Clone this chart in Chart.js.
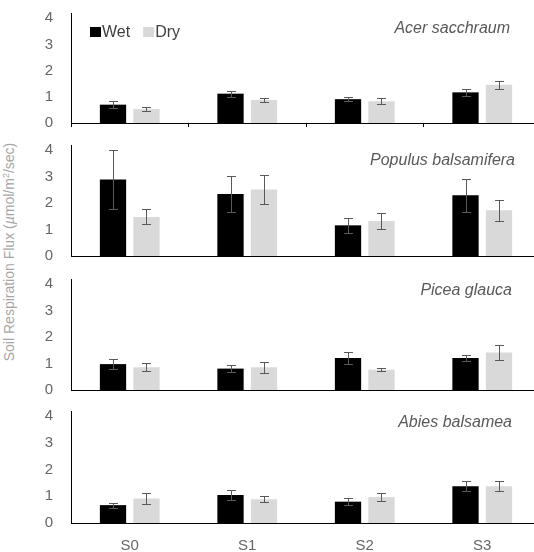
<!DOCTYPE html>
<html>
<head>
<meta charset="utf-8">
<script src="https://cdn.jsdelivr.net/npm/chart.js@4.4.1/dist/chart.umd.min.js"></script>
<style>
  html, body { margin: 0; padding: 0; background: #fff; }
  body { width: 534px; height: 552px; overflow: hidden; position: relative; font-family: "Liberation Sans", Arial, sans-serif; }
  canvas.panel { position: absolute; left: 0; }
  #ytitle {
    position: absolute; left: 9px; top: 252px;
    transform: translate(-50%, -50%) rotate(-90deg);
    white-space: nowrap; font-size: 14px; color: #a6a6a6;
  }
</style>
</head>
<body>
<div id="ytitle">Soil Respiration Flux (<i>µ</i>mol/m<sup style="font-size:9px">2</sup>/sec)</div>
<canvas id="p0" class="panel"></canvas>
<canvas id="p1" class="panel"></canvas>
<canvas id="p2" class="panel"></canvas>
<canvas id="p3" class="panel"></canvas>
<script>
// Sites along the sampling gradient
const categories = ['S0', 'S1', 'S2', 'S3'];
const seriesNames = ['Wet', 'Dry'];
const yTicks = [0, 1, 2, 3, 4];

// Mean soil respiration flux and standard error, per species
const acerWet = [0.70, 1.12, 0.91, 1.17];
const acerWetErr = [0.13, 0.12, 0.08, 0.12];
const acerDry = [0.53, 0.88, 0.83, 1.46];
const acerDryErr = [0.07, 0.06, 0.11, 0.15];

const populusWet = [2.89, 2.35, 1.16, 2.30];
const populusWetErr = [1.13, 0.68, 0.29, 0.63];
const populusDry = [1.48, 2.52, 1.32, 1.73];
const populusDryErr = [0.28, 0.56, 0.30, 0.39];

const piceaWet = [0.98, 0.81, 1.21, 1.21];
const piceaWetErr = [0.19, 0.12, 0.21, 0.12];
const piceaDry = [0.86, 0.86, 0.77, 1.42];
const piceaDryErr = [0.15, 0.20, 0.05, 0.28];

const abiesWet = [0.67, 1.05, 0.80, 1.38];
const abiesWetErr = [0.09, 0.17, 0.14, 0.19];
const abiesDry = [0.92, 0.89, 0.97, 1.38];
const abiesDryErr = [0.19, 0.12, 0.15, 0.19];

const speciesNames = ['Acer sacchraum', 'Populus balsamifera', 'Picea glauca', 'Abies balsamea'];

// Panel layout (pixel geometry)
const panels = [
  { top: 13,  bottom: 123, wet: acerWet,    wetErr: acerWetErr,    dry: acerDry,    dryErr: acerDryErr,    nameRight: 510, nameY: 29 },
  { top: 145, bottom: 256, wet: populusWet, wetErr: populusWetErr, dry: populusDry, dryErr: populusDryErr, nameRight: 515, nameY: 161 },
  { top: 279, bottom: 390, wet: piceaWet,   wetErr: piceaWetErr,   dry: piceaDry,   dryErr: piceaDryErr,   nameRight: 512, nameY: 291 },
  { top: 411, bottom: 523, wet: abiesWet,   wetErr: abiesWetErr,   dry: abiesDry,   dryErr: abiesDryErr,   nameRight: 512, nameY: 423 }
];
const PAD_TOP = 10;
const CANVAS_W = 541;
const Y_AXIS_W = 71;
const colors = { wet: '#000000', dry: '#d9d9d9', err: '#595959', tick: '#666666', name: '#595959', legend: '#404040', axis: '#000000' };

// Error bars with caps, drawn through the value scale
const errorBars = {
  id: 'errorBars',
  afterDatasetsDraw(chart) {
    const { ctx } = chart;
    const yScale = chart.scales.y;
    ctx.save();
    ctx.strokeStyle = colors.err;
    ctx.lineWidth = 1;
    chart.data.datasets.forEach((ds, i) => {
      const meta = chart.getDatasetMeta(i);
      meta.data.forEach((bar, j) => {
        const v = ds.data[j], e = ds.errors[j];
        const x = Math.round(bar.x) + 0.5;
        const y1 = Math.round(yScale.getPixelForValue(v + e)) + 0.5;
        const y2 = Math.round(yScale.getPixelForValue(v - e)) + 0.5;
        ctx.beginPath();
        ctx.moveTo(x, y1); ctx.lineTo(x, y2);
        ctx.moveTo(x - 4.5, y1); ctx.lineTo(x + 4.5, y1);
        ctx.moveTo(x - 4.5, y2); ctx.lineTo(x + 4.5, y2);
        ctx.stroke();
      });
    });
    ctx.restore();
  }
};

// Species name in the upper right of each panel, plus the series key in the first one
const panelText = {
  id: 'panelText',
  afterDraw(chart, args, opts) {
    const { ctx } = chart;
    ctx.save();
    ctx.font = 'italic 16px "Liberation Sans", Arial, sans-serif';
    ctx.fillStyle = colors.name;
    ctx.textAlign = 'right';
    ctx.textBaseline = 'middle';
    ctx.fillText(opts.name, opts.right, opts.y);
    if (opts.legend) {
      ctx.font = '16px "Liberation Sans", Arial, sans-serif';
      ctx.textAlign = 'left';
      let x = 90;
      const yMid = 32 - opts.offset;
      chart.data.datasets.forEach((ds) => {
        ctx.fillStyle = ds.backgroundColor;
        ctx.fillRect(x, yMid - 5, 11, 10);
        ctx.fillStyle = colors.legend;
        ctx.fillText(ds.label, x + 12, yMid + 1);
        x += 12 + ctx.measureText(ds.label).width + 13;
      });
    }
    ctx.restore();
  }
};

panels.forEach((p, idx) => {
  const isFirst = idx === 0;
  const isLast = idx === panels.length - 1;
  const xAxisH = isLast ? 29 : 10;
  const canvasTop = p.top - PAD_TOP;
  const canvasH = (p.bottom - p.top) + PAD_TOP + xAxisH;
  const cv = document.getElementById('p' + idx);
  cv.width = CANVAS_W;
  cv.height = canvasH;
  cv.style.top = canvasTop + 'px';
  cv.style.width = CANVAS_W + 'px';
  cv.style.height = canvasH + 'px';

  new Chart(cv, {
    type: 'bar',
    data: {
      labels: categories,
      datasets: [
        { label: seriesNames[0], data: p.wet, errors: p.wetErr, backgroundColor: colors.wet },
        { label: seriesNames[1], data: p.dry, errors: p.dryErr, backgroundColor: colors.dry }
      ]
    },
    options: {
      responsive: false,
      animation: false,
      devicePixelRatio: 1,
      layout: { padding: { top: PAD_TOP, left: 0, right: 0, bottom: 0 } },
      datasets: { bar: { categoryPercentage: 0.57, barPercentage: 0.785 } },
      plugins: {
        legend: { display: false },
        tooltip: { enabled: false },
        panelText: { name: speciesNames[idx], right: p.nameRight, y: p.nameY - canvasTop, legend: isFirst, offset: canvasTop }
      },
      scales: {
        x: {
          grid: { display: isFirst, drawOnChartArea: false, drawTicks: isFirst, tickLength: 4, color: colors.axis, offset: true },
          border: { display: true, color: colors.axis, width: 1 },
          ticks: { display: isLast, color: colors.tick, padding: 14, font: { size: 15, family: '"Liberation Sans", Arial, sans-serif' } },
          afterFit: (a) => { a.height = xAxisH; a.paddingLeft = 0; a.paddingRight = 0; }
        },
        y: {
          min: 0,
          max: 4.2,
          grid: { display: false, drawTicks: false },
          border: { display: true, color: colors.axis, width: 1 },
          ticks: { stepSize: 1, padding: 18, color: colors.tick, font: { size: 15, family: '"Liberation Sans", Arial, sans-serif' } },
          afterBuildTicks: (a) => { a.ticks = yTicks.map((v) => ({ value: v })); },
          afterFit: (a) => { a.width = Y_AXIS_W; a.paddingTop = 0; a.paddingBottom = 0; }
        }
      }
    },
    plugins: [errorBars, panelText]
  });
});
</script>
</body>
</html>
